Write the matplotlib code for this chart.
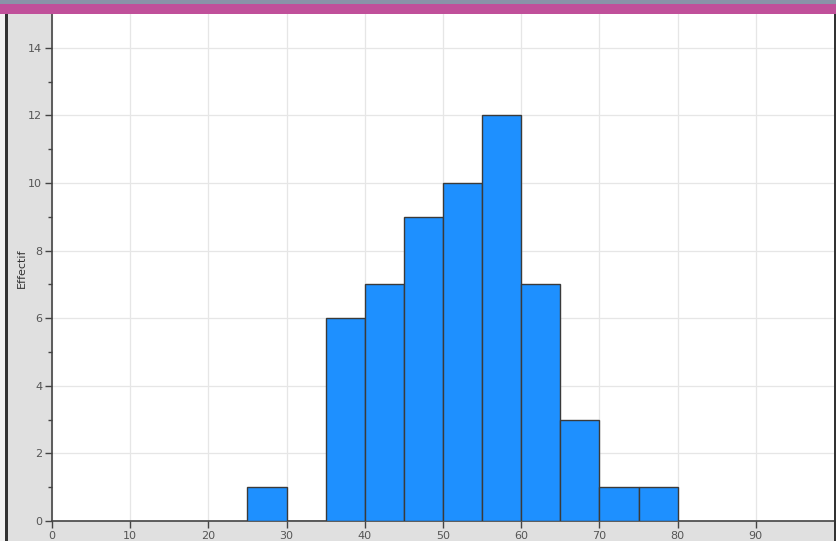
import matplotlib
matplotlib.use("Agg")
import matplotlib.pyplot as plt
from matplotlib.patches import Rectangle
import numpy as np

bin_edges = [25, 30, 35, 40, 45, 50, 55, 60, 65, 70, 75, 80]
counts = [1, 0, 6, 7, 9, 10, 12, 7, 3, 1, 1]
x_ticks = [0, 10, 20, 30, 40, 50, 60, 70, 80, 90]
y_ticks = [0, 2, 4, 6, 8, 10, 12, 14]
y_label = "Effectif"

W, H = 837, 541
fig = plt.figure(figsize=(W / 100, H / 100), dpi=100)
fig.patch.set_facecolor("#e0e0e0")

# decorations (window chrome)
fig.add_artist(Rectangle((0, 1 - 4 / H), 1, 4 / H, transform=fig.transFigure,
                         facecolor="#8a93a8", edgecolor="none"))
fig.add_artist(Rectangle((0, 1 - 14 / H), 1, 10 / H, transform=fig.transFigure,
                         facecolor="#c0509a", edgecolor="none"))
fig.add_artist(Rectangle((0, 0), 5 / W, 1 - 14 / H, transform=fig.transFigure,
                         facecolor="#f2f2f2", edgecolor="none"))
fig.add_artist(Rectangle((5 / W, 0), 2.5 / W, 1 - 14 / H, transform=fig.transFigure,
                         facecolor="#333333", edgecolor="none"))
fig.add_artist(Rectangle((1 - 3 / W, 0), 3 / W, 1 - 14 / H, transform=fig.transFigure,
                         facecolor="#333333", edgecolor="none"))

ax = fig.add_axes([52 / W, 20 / H, 782 / W, 507 / H])
ax.set_facecolor("white")

widths = np.diff(bin_edges)
ax.bar(bin_edges[:-1], counts, width=widths, align="edge",
       color="#1e90ff", edgecolor="#3a3a3a", linewidth=1.0, zorder=3)

ax.set_xlim(0, 100)
ax.set_ylim(0, 15)
ax.set_xticks(x_ticks)
ax.set_yticks(y_ticks)
ax.set_yticks([1, 3, 5, 7, 9, 11, 13], minor=True)
ax.tick_params(axis="both", which="major", length=5, width=1, color="#444444",
               labelsize=8, labelcolor="#555555", pad=2)
ax.tick_params(axis="y", which="minor", length=3, width=1, color="#444444")
ax.grid(True, which="major", color="#e6e6e6", linewidth=0.9, zorder=0)
for s in ["top", "right"]:
    ax.spines[s].set_visible(False)
for s in ["left", "bottom"]:
    ax.spines[s].set_color("#444444")
    ax.spines[s].set_linewidth(1.2)

fig.text(22 / W, 1 - 268 / H, y_label, rotation=90, fontsize=8, color="#333333",
         ha="center", va="center", zorder=10)

fig.savefig("out.png", dpi=100, facecolor=fig.get_facecolor())
